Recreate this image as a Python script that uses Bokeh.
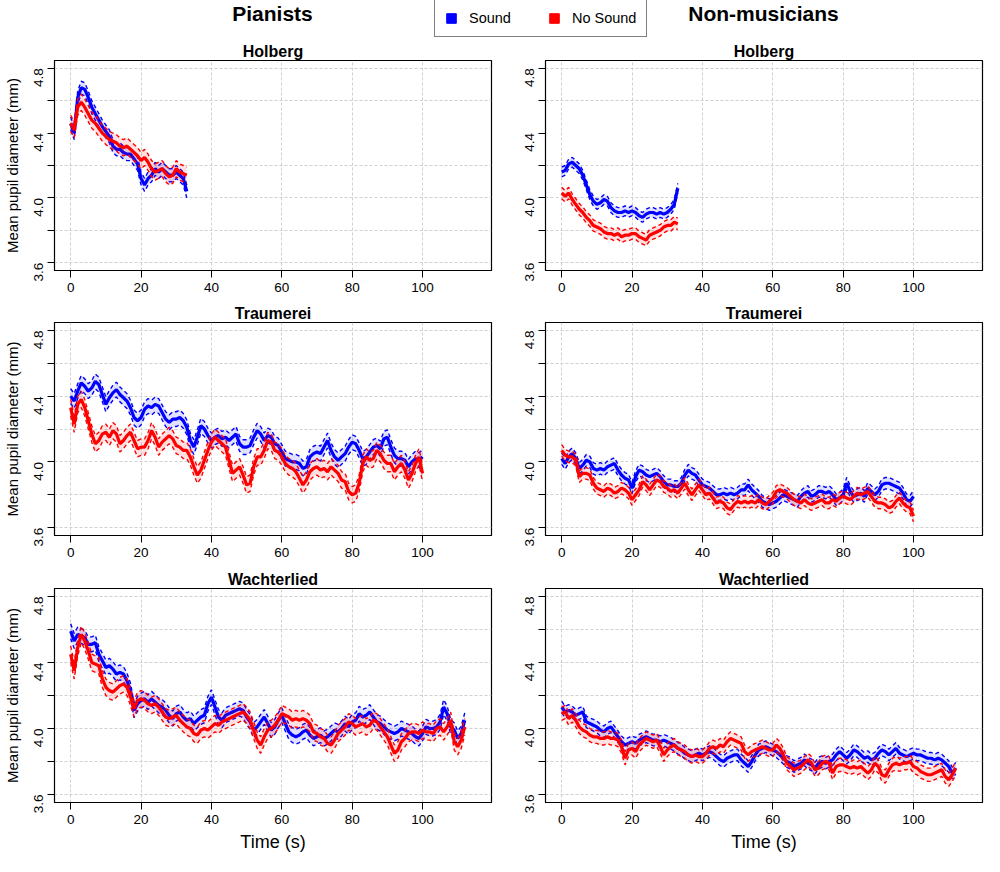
import math
from bokeh.plotting import figure
from bokeh.models import Range1d, FixedTicker, Legend, LegendItem
from bokeh.layouts import column, row
from bokeh.embed import file_html
from bokeh.resources import INLINE
from bokeh.core.properties import value

FONT = "Liberation Sans"
BLUE = "#0000FF"
RED = "#FF0000"
NAN = float("nan")

# ---------------- data ----------------
GROUPS = ["Pianists", "Non-musicians"]
PIECES = ["Holberg", "Traumerei", "Wachterlied"]
SERIES = ["Sound", "No Sound"]

HOL_T = list(range(0, 34))
TRA_T = list(range(0, 101))
WAC_T = list(range(0, 113))

PIA_HOL_SOUND = [4.46, 4.40, 4.62, 4.68, 4.67, 4.62, 4.56, 4.52, 4.48, 4.44,
                 4.41, 4.38, 4.32, 4.30, 4.30, 4.28, 4.27, 4.27, 4.24, 4.21,
                 4.12, 4.08, 4.12, 4.14, 4.18, 4.16, 4.18, 4.16, 4.14, 4.14,
                 4.16, 4.14, 4.12, 4.04]
PIA_HOL_NOSOUND = [4.46, 4.42, 4.56, 4.59, 4.56, 4.52, 4.48, 4.46, 4.43, 4.40,
                   4.38, 4.36, 4.35, 4.34, 4.32, 4.31, 4.32, 4.30, 4.28, 4.26,
                   4.23, 4.25, 4.22, 4.18, 4.16, 4.17, 4.18, 4.15, 4.13, 4.14,
                   4.18, 4.16, 4.15, 4.14]
NON_HOL_SOUND = [4.16, 4.17, 4.21, 4.22, 4.20, 4.18, 4.14, 4.08, 4.02, 3.98,
                 3.96, 3.97, 3.99, 3.98, 3.94, 3.92, 3.91, 3.91, 3.92, 3.91,
                 3.92, 3.91, 3.89, 3.88, 3.90, 3.91, 3.91, 3.90, 3.91, 3.90,
                 3.91, 3.93, 3.96, 4.06]
NON_HOL_NOSOUND = [4.03, 4.01, 4.03, 3.99, 3.96, 3.93, 3.91, 3.88, 3.86, 3.83,
                   3.82, 3.81, 3.79, 3.78, 3.78, 3.77, 3.78, 3.76, 3.77, 3.77,
                   3.78, 3.78, 3.76, 3.75, 3.74, 3.77, 3.78, 3.79, 3.80, 3.82,
                   3.83, 3.83, 3.85, 3.84]

PIA_TRA_SOUND = [4.40, 4.37, 4.43, 4.48, 4.46, 4.43, 4.45, 4.49, 4.47, 4.41,
                 4.35, 4.39, 4.42, 4.44, 4.41, 4.39, 4.37, 4.33, 4.27, 4.25,
                 4.27, 4.32, 4.34, 4.33, 4.35, 4.34, 4.30, 4.26, 4.24, 4.26,
                 4.26, 4.27, 4.25, 4.21, 4.13, 4.09, 4.15, 4.22, 4.20, 4.16,
                 4.13, 4.15, 4.16, 4.14, 4.15, 4.13, 4.15, 4.17, 4.11, 4.09,
                 4.09, 4.10, 4.15, 4.19, 4.17, 4.13, 4.16, 4.15, 4.11, 4.10,
                 4.06, 4.02, 4.01, 4.00, 4.00, 3.99, 3.96, 3.97, 4.03, 4.05,
                 4.06, 4.05, 4.09, 4.13, 4.07, 4.03, 4.01, 4.03, 4.05, 4.09,
                 4.12, 4.11, 4.07, 4.02, 4.03, 4.06, 4.09, 4.10, 4.08, 4.14,
                 4.15, 4.09, 4.04, 4.02, 4.02, 4.01, 3.97, 4.00, 4.02, 4.01,
                 4.03]
PIA_TRA_NOSOUND = [4.33, 4.23, 4.35, 4.38, 4.33, 4.25, 4.17, 4.11, 4.13, 4.17,
                   4.18, 4.15, 4.19, 4.17, 4.11, 4.13, 4.16, 4.18, 4.13, 4.08,
                   4.09, 4.09, 4.13, 4.19, 4.15, 4.09, 4.12, 4.14, 4.16, 4.14,
                   4.10, 4.09, 4.07, 4.07, 4.03, 3.97, 3.92, 3.95, 4.01, 4.07,
                   4.12, 4.15, 4.13, 4.11, 4.09, 4.01, 3.93, 3.95, 3.97, 3.92,
                   3.86, 3.87, 3.97, 4.03, 4.03, 4.07, 4.13, 4.12, 4.07, 4.06,
                   4.03, 3.99, 3.97, 3.96, 3.94, 3.90, 3.86, 3.89, 3.94, 3.96,
                   3.97, 3.95, 3.96, 3.94, 3.97, 3.95, 3.93, 3.89, 3.88, 3.82,
                   3.80, 3.81, 3.87, 3.99, 4.03, 4.01, 4.02, 4.07, 4.05, 4.01,
                   3.99, 3.99, 3.94, 3.97, 3.99, 3.95, 3.89, 3.93, 3.99, 4.03,
                   3.93]
NON_TRA_SOUND = [4.02, 3.99, 4.03, 4.05, 4.02, 3.96, 3.98, 4.01, 4.00, 3.96,
                 3.95, 3.96, 3.95, 3.97, 3.98, 3.99, 3.95, 3.92, 3.90, 3.89,
                 3.84, 3.91, 3.95, 3.94, 3.92, 3.91, 3.92, 3.93, 3.91, 3.88,
                 3.86, 3.86, 3.85, 3.85, 3.87, 3.92, 3.95, 3.93, 3.92, 3.89,
                 3.86, 3.85, 3.84, 3.82, 3.80, 3.80, 3.81, 3.80, 3.81, 3.80,
                 3.81, 3.83, 3.83, 3.86, 3.83, 3.81, 3.79, 3.76, 3.75, 3.74,
                 3.75, 3.76, 3.78, 3.80, 3.79, 3.78, 3.77, 3.76, 3.79, 3.81,
                 3.82, 3.79, 3.80, 3.82, 3.82, 3.81, 3.82, 3.80, 3.77, 3.78,
                 3.80, 3.87, 3.82, 3.79, 3.80, 3.81, 3.79, 3.84, 3.82, 3.80,
                 3.82, 3.86, 3.87, 3.87, 3.86, 3.85, 3.84, 3.81, 3.77, 3.76,
                 3.79]
NON_TRA_NOSOUND = [4.07, 4.04, 4.03, 4.03, 4.01, 3.91, 3.93, 3.93, 3.92, 3.87,
                   3.84, 3.83, 3.82, 3.84, 3.83, 3.81, 3.82, 3.84, 3.83, 3.81,
                   3.77, 3.80, 3.83, 3.88, 3.86, 3.83, 3.86, 3.89, 3.88, 3.85,
                   3.84, 3.82, 3.83, 3.81, 3.84, 3.87, 3.83, 3.80, 3.83, 3.86,
                   3.83, 3.80, 3.81, 3.78, 3.75, 3.76, 3.75, 3.72, 3.71, 3.74,
                   3.76, 3.75, 3.76, 3.75, 3.76, 3.75, 3.77, 3.75, 3.74, 3.76,
                   3.78, 3.82, 3.83, 3.82, 3.81, 3.79, 3.77, 3.76, 3.75, 3.77,
                   3.75, 3.74, 3.75, 3.76, 3.77, 3.75, 3.75, 3.77, 3.76, 3.78,
                   3.79, 3.78, 3.77, 3.79, 3.81, 3.80, 3.81, 3.82, 3.79, 3.76,
                   3.75, 3.75, 3.74, 3.72, 3.73, 3.76, 3.78, 3.75, 3.73, 3.72,
                   3.67]

PIA_WAC_SOUND = [4.59, 4.53, 4.57, 4.56, 4.55, 4.51, 4.51, 4.52, 4.45, 4.41,
                 4.37, 4.38, 4.36, 4.33, 4.34, 4.33, 4.29, 4.23, 4.11, 4.15,
                 4.17, 4.18, 4.16, 4.18, 4.16, 4.14, 4.13, 4.11, 4.08, 4.06,
                 4.09, 4.10, 4.07, 4.05, 4.06, 4.03, 4.05, 4.07, 4.08, 4.15,
                 4.19, 4.13, 4.07, 4.05, 4.08, 4.09, 4.10, 4.11, 4.12, 4.11,
                 4.07, 4.04, 3.99, 4.01, 4.04, 4.07, 4.03, 3.99, 4.01, 4.05,
                 4.08, 4.03, 3.98, 3.96, 3.95, 3.96, 3.98, 3.99, 3.96, 3.94,
                 3.95, 3.96, 3.94, 3.95, 3.97, 3.99, 3.98, 4.00, 4.03, 4.01,
                 4.04, 4.05, 4.09, 4.07, 4.08, 4.10, 4.07, 4.04, 4.03, 4.01,
                 3.99, 3.98, 3.97, 3.98, 4.00, 3.99, 3.98, 3.97, 3.95, 3.94,
                 3.97, 4.01, 4.00, 4.00, 4.01, 4.04, 4.13, 4.09, 4.01, 3.99,
                 3.94, 3.97, 4.05]
PIA_WAC_NOSOUND = [4.45, 4.35, 4.49, 4.57, 4.53, 4.47, 4.40, 4.39, 4.38, 4.30,
                   4.25, 4.23, 4.22, 4.24, 4.26, 4.27, 4.25, 4.19, 4.12, 4.17,
                   4.18, 4.17, 4.15, 4.14, 4.15, 4.13, 4.10, 4.07, 4.06, 4.07,
                   4.08, 4.05, 4.03, 4.01, 4.00, 3.97, 3.96, 3.99, 4.00, 3.99,
                   4.01, 4.03, 4.02, 4.04, 4.05, 4.06, 4.07, 4.08, 4.09, 4.10,
                   4.08, 4.05, 3.99, 3.93, 3.90, 3.95, 3.99, 4.00, 4.02, 4.05,
                   4.09, 4.08, 4.07, 4.05, 4.06, 4.05, 4.06, 4.05, 4.03, 3.98,
                   3.97, 3.95, 3.94, 3.91, 3.90, 3.93, 3.97, 3.99, 4.01, 4.04,
                   4.03, 4.01, 4.02, 4.03, 4.01, 4.02, 4.05, 4.04, 4.01, 3.98,
                   3.95, 3.90, 3.85, 3.87, 3.92, 3.94, 3.97, 3.98, 3.98, 3.97,
                   3.99, 3.98, 3.98, 3.97, 4.00, 4.01, 3.98, 4.01, 4.05, 3.92,
                   3.89, 3.93, 4.01]
NON_WAC_SOUND = [4.13, 4.10, 4.11, 4.10, 4.08, 4.09, 4.10, 4.04, 4.03, 4.02,
                 4.01, 3.99, 3.98, 4.00, 4.01, 3.98, 3.95, 3.92, 3.90, 3.91,
                 3.92, 3.91, 3.93, 3.94, 3.95, 3.94, 3.93, 3.93, 3.92, 3.93,
                 3.92, 3.91, 3.90, 3.88, 3.87, 3.85, 3.84, 3.83, 3.84, 3.85,
                 3.84, 3.85, 3.86, 3.85, 3.83, 3.81, 3.80, 3.82, 3.83, 3.84,
                 3.84, 3.81, 3.79, 3.77, 3.80, 3.84, 3.87, 3.88, 3.89, 3.88,
                 3.87, 3.86, 3.84, 3.82, 3.80, 3.79, 3.77, 3.78, 3.79, 3.81,
                 3.79, 3.78, 3.76, 3.79, 3.80, 3.79, 3.80, 3.81, 3.84, 3.86,
                 3.84, 3.82, 3.84, 3.87, 3.86, 3.84, 3.82, 3.83, 3.81, 3.82,
                 3.85, 3.87, 3.86, 3.84, 3.86, 3.88, 3.85, 3.84, 3.83, 3.84,
                 3.85, 3.84, 3.84, 3.83, 3.82, 3.82, 3.81, 3.82, 3.81, 3.79,
                 3.77, 3.73, 3.76]
NON_WAC_NOSOUND = [4.09, 4.10, 4.06, 4.08, 4.05, 4.01, 3.99, 3.98, 3.96, 3.95,
                   3.95, 3.94, 3.94, 3.95, 3.94, 3.94, 3.93, 3.89, 3.82, 3.87,
                   3.88, 3.86, 3.90, 3.92, 3.94, 3.93, 3.92, 3.93, 3.89, 3.84,
                   3.87, 3.89, 3.90, 3.88, 3.87, 3.86, 3.84, 3.83, 3.84, 3.83,
                   3.83, 3.85, 3.88, 3.89, 3.88, 3.90, 3.89, 3.92, 3.94, 3.93,
                   3.92, 3.91, 3.86, 3.84, 3.86, 3.87, 3.88, 3.89, 3.88, 3.87,
                   3.87, 3.90, 3.88, 3.84, 3.79, 3.77, 3.75, 3.76, 3.77, 3.79,
                   3.81, 3.79, 3.75, 3.76, 3.79, 3.80, 3.79, 3.73, 3.77, 3.78,
                   3.78, 3.77, 3.76, 3.77, 3.76, 3.77, 3.75, 3.73, 3.75, 3.79,
                   3.77, 3.72, 3.71, 3.75, 3.78, 3.79, 3.78, 3.79, 3.79, 3.80,
                   3.77, 3.76, 3.74, 3.73, 3.72, 3.72, 3.73, 3.74, 3.75, 3.71,
                   3.69, 3.72, 3.76]

# half-width of the confidence band (distance of the dashed lines from the mean)
CI_PIA_HOL = [0.040, 0.050]
CI_NON_HOL = [0.030, 0.035]
CI_PIA_TRA = [0.045, 0.050]
CI_NON_TRA = [0.035, 0.035]
CI_PIA_WAC = [0.045, 0.050]
CI_NON_WAC = [0.035, 0.040]

Y_TICKS = [3.6, 3.8, 4.0, 4.2, 4.4, 4.6, 4.8]
Y_TICK_LABELS = {3.6: "3.6", 3.8: "", 4.0: "4.0", 4.2: "", 4.4: "4.4", 4.6: "", 4.8: "4.8"}
X_TICKS = [0, 20, 40, 60, 80, 100]
GRID_Y_ROW1 = [3.6, 3.8, 4.0, 4.2, 4.6, 4.8]
X_LIMITS = (0, 115)
Y_LIMITS = (3.6, 4.8)


def draw_series(p, t, mean, ci, color):
    upper = [m + ci for m in mean]
    lower = [m - ci for m in mean]
    p.varea(x=t, y1=lower, y2=upper, fill_color=color, fill_alpha=0.12)
    p.line(t, upper, line_color=color, line_width=1.4, line_dash="4 3")
    p.line(t, lower, line_color=color, line_width=1.4, line_dash="4 3")
    p.line(t, mean, line_color=color, line_width=3.2)


def panel(title, t, sound, nosound, ci, width, height, left, right, top, bottom,
          ylabel, xlabel, grid_y):
    xpad = (X_LIMITS[1] - X_LIMITS[0]) * 0.04
    ypad = (Y_LIMITS[1] - Y_LIMITS[0]) * 0.04
    p = figure(width=width, height=height, output_backend="svg", toolbar_location=None,
               x_range=Range1d(X_LIMITS[0] - xpad, X_LIMITS[1] + xpad),
               y_range=Range1d(Y_LIMITS[0] - ypad, Y_LIMITS[1] + ypad),
               min_border_left=left, min_border_right=right,
               min_border_top=top, min_border_bottom=bottom,
               title=title)
    p.title.align = "center"
    p.title.text_font = FONT
    p.title.text_font_size = "16px"
    p.title.text_font_style = "bold"
    p.title.text_color = "black"
    p.title.standoff = 2
    p.title.offset = 0
    p.outline_line_color = "black"
    p.outline_line_width = 1.2
    p.background_fill_color = "white"
    p.border_fill_color = "white"

    p.xaxis.ticker = FixedTicker(ticks=X_TICKS)
    p.yaxis.ticker = FixedTicker(ticks=Y_TICKS)
    p.yaxis.major_label_overrides = Y_TICK_LABELS
    p.yaxis.major_label_orientation = math.pi / 2
    for ax in (p.xaxis[0], p.yaxis[0]):
        ax.major_label_text_font = FONT
        ax.major_label_text_font_size = "13.5px"
        ax.major_label_text_color = "black"
        ax.major_tick_in = 0
        ax.major_tick_out = 7
        ax.major_tick_line_color = "black"
        ax.minor_tick_line_color = None
        ax.axis_line_color = "black"
        ax.major_label_standoff = 5
    p.yaxis.major_label_standoff = 9
    if ylabel:
        p.yaxis.axis_label = ylabel
        p.yaxis.axis_label_text_font = FONT
        p.yaxis.axis_label_text_font_size = "15px"
        p.yaxis.axis_label_text_font_style = "normal"
        p.yaxis.axis_label_text_color = "black"
        p.yaxis.axis_label_standoff = 6
    if xlabel:
        p.xaxis.axis_label = xlabel
        p.xaxis.axis_label_text_font = FONT
        p.xaxis.axis_label_text_font_size = "18px"
        p.xaxis.axis_label_text_font_style = "normal"
        p.xaxis.axis_label_text_color = "black"
        p.xaxis.axis_label_standoff = 5

    p.xgrid.ticker = FixedTicker(ticks=X_TICKS)
    p.ygrid.ticker = FixedTicker(ticks=grid_y)
    for g in (p.xgrid[0], p.ygrid[0]):
        g.grid_line_color = "#D0D0D0"
        g.grid_line_dash = "3 2"
        g.grid_line_width = 1

    draw_series(p, t, sound, ci[0], BLUE)
    draw_series(p, t, nosound, ci[1], RED)
    return p


W_LEFT = 494
W_RIGHT = 490
HDR_H = 38
# header with group titles and legend
hdr = figure(width=W_LEFT + W_RIGHT, height=HDR_H, output_backend="svg", toolbar_location=None,
             x_range=Range1d(0, W_LEFT + W_RIGHT), y_range=Range1d(0, HDR_H),
             x_axis_type=None, y_axis_type=None, min_border=0)
hdr.outline_line_color = None
hdr.grid.visible = False
hdr.text(x=[272, 763], y=[HDR_H - 13, HDR_H - 13], text=GROUPS, text_font=value(FONT),
         text_font_size="21px", text_font_style="bold", text_align="center",
         text_baseline="middle", text_color="black")
# legend keys (renderers with no visible data, only used for the legend)
r_s = hdr.quad(left=[NAN], right=[NAN], top=[NAN], bottom=[NAN], fill_color=BLUE, line_color=BLUE)
r_n = hdr.quad(left=[NAN], right=[NAN], top=[NAN], bottom=[NAN], fill_color=RED, line_color=RED)
leg = Legend(items=[LegendItem(label=SERIES[0], renderers=[r_s]),
                    LegendItem(label=SERIES[1], renderers=[r_n])],
             orientation="horizontal", location=(434, 1),
             border_line_color="black", border_line_width=1.2,
             label_text_font=FONT, label_text_font_size="14.5px",
             label_text_color="black",
             glyph_width=12, glyph_height=12, padding=10, spacing=37,
             label_standoff=12, margin=0, background_fill_color="white",
             background_fill_alpha=1.0)
hdr.add_layout(leg)

rows_spec = [
    (PIECES[0], HOL_T, (PIA_HOL_SOUND, PIA_HOL_NOSOUND, CI_PIA_HOL),
     (NON_HOL_SOUND, NON_HOL_NOSOUND, CI_NON_HOL), 262, 22, 30, None, GRID_Y_ROW1),
    (PIECES[1], TRA_T, (PIA_TRA_SOUND, PIA_TRA_NOSOUND, CI_PIA_TRA),
     (NON_TRA_SOUND, NON_TRA_NOSOUND, CI_NON_TRA), 266, 22, 31, None, Y_TICKS),
    (PIECES[2], WAC_T, (PIA_WAC_SOUND, PIA_WAC_NOSOUND, CI_PIA_WAC),
     (NON_WAC_SOUND, NON_WAC_NOSOUND, CI_NON_WAC), 290, 22, 54, "Time (s)", Y_TICKS),
]

rows = []
for piece, t, pia, non, h, top, bottom, xl, gy in rows_spec:
    pl = panel(piece, t, pia[0], pia[1], pia[2], W_LEFT, h, 54, 3, top, bottom,
               "Mean pupil diameter (mm)", xl, gy)
    pr = panel(piece, t, non[0], non[1], non[2], W_RIGHT, h, 51, 2, top, bottom,
               None, xl, gy)
    rows.append(row(pl, pr, spacing=0))

layout = column(hdr, *rows, spacing=0)

open("out.html", "w").write(file_html(layout, INLINE))
